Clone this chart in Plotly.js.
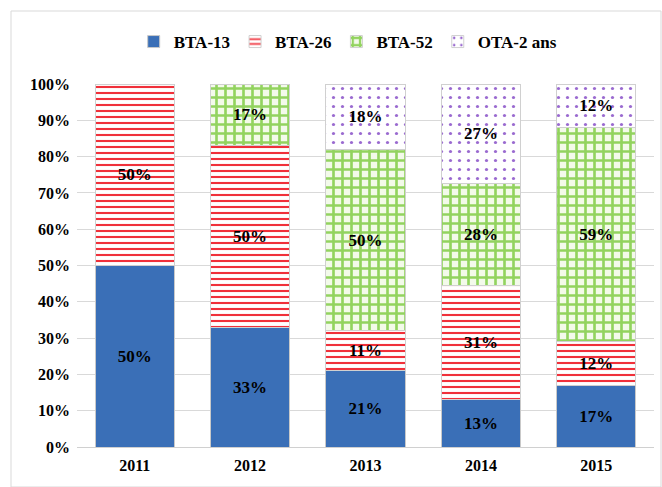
<!DOCTYPE html>
<html>
<head>
<meta charset="utf-8">
<script src="https://cdn.plot.ly/plotly-3.0.1.min.js"></script>
<style>html,body{margin:0;padding:0;background:#fff;}#chart{width:662px;height:487px;}</style>
</head>
<body>
<div id="chart"></div>
<script>
const years = ['2011', '2012', '2013', '2014', '2015'];
const seriesNames = ['BTA-13', 'BTA-26', 'BTA-52', 'OTA-2 ans'];
const bta13 = [50, 33, 21, 13, 17];
const bta26 = [50, 50, 11, 31, 12];
const bta52 = [null, 17, 50, 28, 59];
const ota2 = [null, null, 18, 27, 12];
const yTickVals = [0, 10, 20, 30, 40, 50, 60, 70, 80, 90, 100];
const yTickText = ['0%', '10%', '20%', '30%', '40%', '50%', '60%', '70%', '80%', '90%', '100%'];

const FONT = '"Liberation Serif", "Times New Roman", serif';
const values = [bta13, bta26, bta52, ota2];
const markers = [
  {color: '#3a6fb7', line: {color: '#c9c9c9', width: 1}},
  {color: 'white', line: {color: '#d0d0d0', width: 1},
   pattern: {shape: '-', fgcolor: '#f0303a', bgcolor: 'white', size: 6, solidity: 0.35}},
  {color: 'white', line: {color: '#d0d0d0', width: 1},
   pattern: {shape: '+', fgcolor: '#92d35e', bgcolor: '#f3faea', size: 9, solidity: 0.5}},
  {color: 'white', line: {color: '#d0d0d0', width: 1},
   pattern: {shape: '.', fgcolor: '#9a6ad0', bgcolor: 'white', size: 9, solidity: 0.1}}
];

const traces = seriesNames.map((name, i) => ({
  type: 'bar',
  name: name,
  x: years,
  y: values[i],
  text: values[i].map(v => v == null ? '' : v + '%'),
  texttemplate: '%{text}',
  textposition: 'inside',
  insidetextanchor: 'middle',
  constraintext: 'none',
  textangle: 0,
  textfont: {family: FONT, size: 17, color: 'black', weight: 'bold'},
  marker: markers[i],
  hoverinfo: 'skip'
}));

const layout = {
  width: 662,
  height: 487,
  barmode: 'stack',
  barnorm: 'percent',
  bargap: 0.315,
  margin: {l: 77, r: 8, t: 84, b: 40},
  paper_bgcolor: 'white',
  plot_bgcolor: 'white',
  font: {family: FONT, size: 16, color: 'black', weight: 'bold'},
  showlegend: true,
  legend: {
    orientation: 'h',
    x: 0.47, xanchor: 'center',
    yref: 'container', y: 1 - 42 / 487, yanchor: 'middle',
    font: {family: FONT, size: 17, color: 'black', weight: 'bold'},
    itemwidth: 30,
    traceorder: 'normal',
    tracegroupgap: 0
  },
  xaxis: {
    type: 'category',
    showgrid: false,
    showline: true,
    linecolor: '#d0d0d0',
    linewidth: 1,
    ticks: '',
    ticklabelstandoff: 4,
    tickfont: {family: FONT, size: 16, color: 'black', weight: 'bold'}
  },
  yaxis: {
    range: [0, 100],
    tickvals: yTickVals,
    ticktext: yTickText,
    showgrid: true,
    gridcolor: '#d9d9d9',
    gridwidth: 1,
    zeroline: false,
    showline: false,
    ticks: '',
    ticklabelstandoff: 6,
    tickfont: {family: FONT, size: 16, color: 'black', weight: 'bold'}
  },
  shapes: [{
    type: 'rect', xref: 'paper', yref: 'paper',
    x0: -66 / 577, x1: 1 + 7 / 577,
    y0: -40 / 363, y1: 1 + 73 / 363,
    line: {color: '#d9d9d9', width: 1}, layer: 'below'
  }]
};

Plotly.newPlot('chart', traces, layout, {displayModeBar: false, staticPlot: true});
</script>
</body>
</html>
